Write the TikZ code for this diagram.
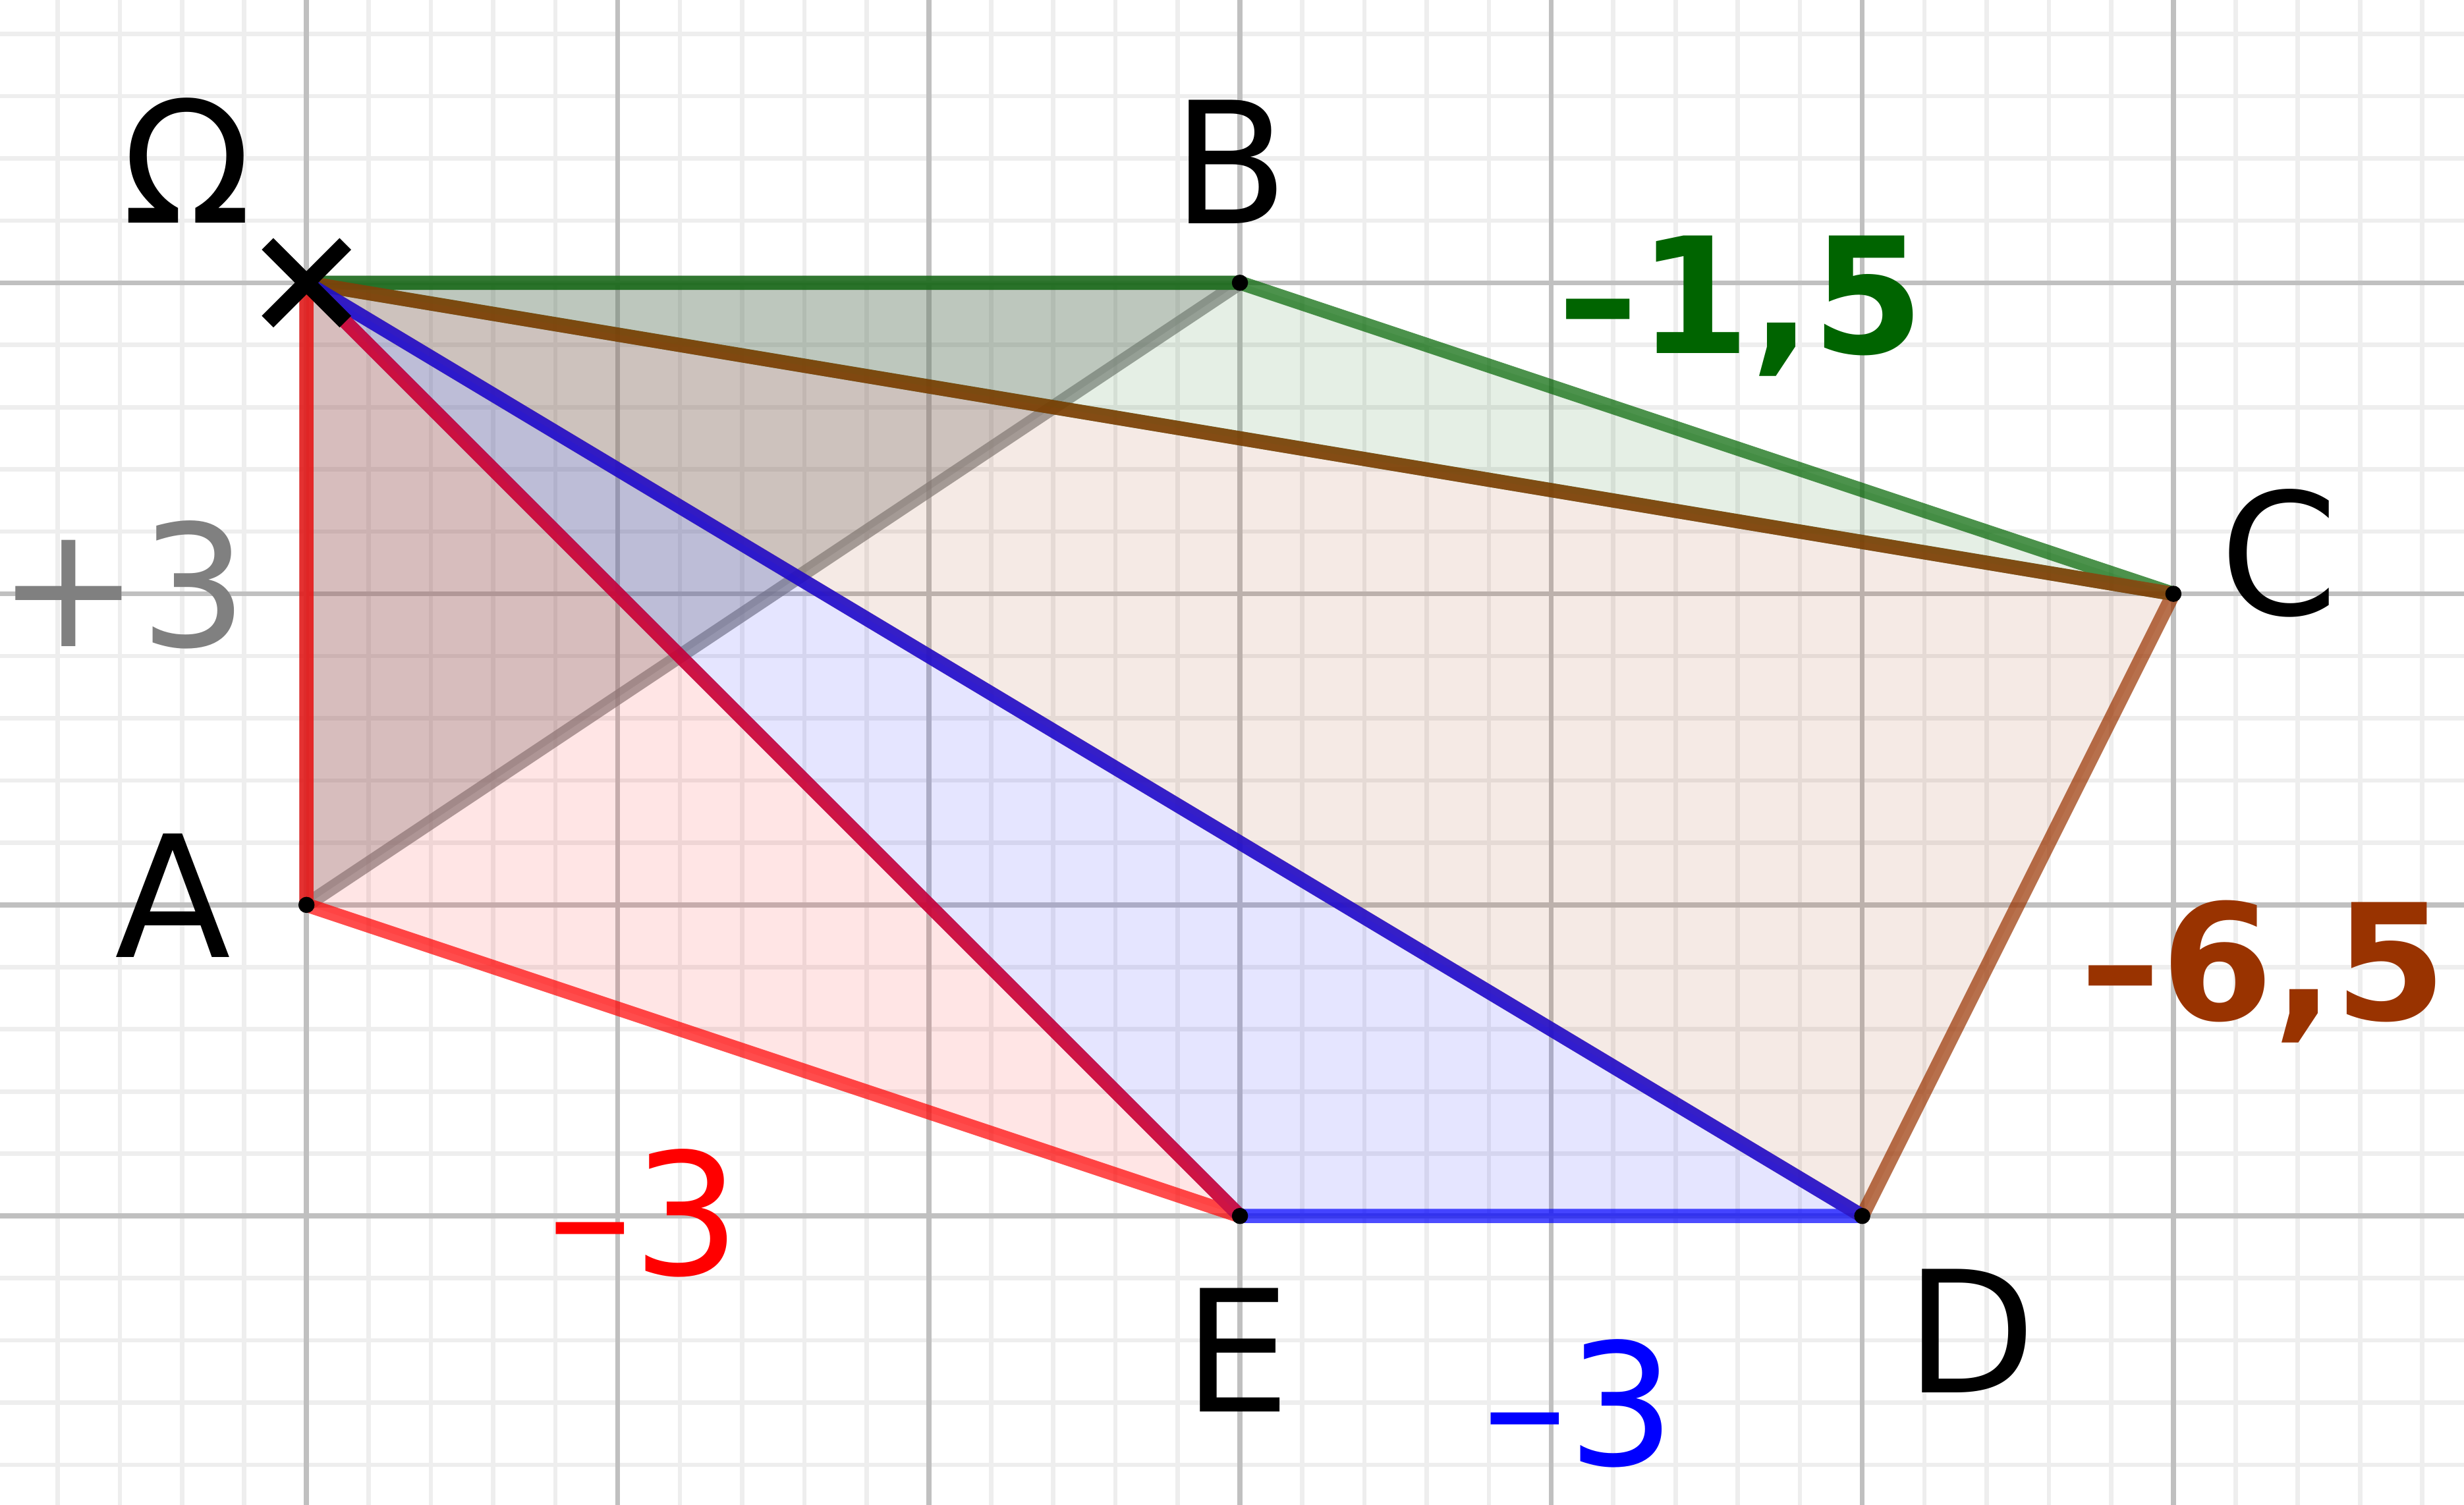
\documentclass[tikz,border=0pt]{standalone}
\usepackage{fontspec}
\setmainfont{DejaVu Sans}
\definecolor{ggreen}{RGB}{0,100,0}
\definecolor{gbrown}{RGB}{153,51,0}
\definecolor{gminor}{RGB}{238,238,238}
\definecolor{gmajor}{RGB}{192,192,192}

\begin{document}
\begin{tikzpicture}[scale=2,
  lbl/.style={font=\fontsize{31}{37}\selectfont},
  area/.style={font=\fontsize{31}{37}\selectfont,anchor=base},
  tri/.style={line width=2.6pt,draw opacity=0.7,fill opacity=0.1,line join=round}]
\useasboundingbox (-0.985,-3.929) rectangle (6.934,0.909);
\clip (-0.985,-3.929) rectangle (6.934,0.909);
% grid
\draw[gminor,line width=0.8pt,step=0.2] (-1.2,-4.2) grid (7.2,1.2);
\draw[gmajor,line width=0.9pt,step=1] (-1.2,-4.2) grid (7.2,1.2);
% points
\coordinate (O) at (0,0);
\coordinate (A) at (0,-2);
\coordinate (B) at (3,0);
\coordinate (C) at (6,-1);
\coordinate (D) at (5,-3);
\coordinate (E) at (3,-3);
% triangles
\draw[tri,draw=gray,fill=gray,fill opacity=0.35] (O) -- (A) -- (B) -- cycle;
\draw[tri,draw=ggreen,fill=ggreen] (O) -- (B) -- (C) -- cycle;
\draw[tri,draw=gbrown,fill=gbrown] (O) -- (C) -- (D) -- cycle;
\draw[tri,draw=blue,fill=blue] (O) -- (D) -- (E) -- cycle;
\draw[tri,draw=red,fill=red] (O) -- (E) -- (A) -- cycle;
\foreach \p in {A,B,C,D,E} \fill (\p) circle (0.026);
\draw[line width=3pt] (O) ++(-0.125,-0.125) -- ++(0.25,0.25) (O) ++(-0.125,0.125) -- ++(0.25,-0.25);
% labels
\node[lbl] (lO) at (-0.384,0.394) {Ω};
\node[lbl] (lB) at (2.97,0.389) {B};
\node[lbl] (lC) at (6.34,-0.869) {C};
\node[lbl] (lA) at (-0.43,-1.97) {A};
\node[lbl] (lE) at (2.99,-3.43) {E};
\node[lbl] (lD) at (5.35,-3.37) {D};
\node[area,text=gray] (sAB) at (-0.59,-1.17) {+3};
\node[area,text=ggreen,font=\fontsize{29.5}{35}\selectfont\bfseries] (sBC) at (4.61,-0.227) {–1,5};
\node[area,text=gbrown,font=\fontsize{29.5}{35}\selectfont\bfseries] (sCD) at (6.29,-2.37) {–6,5};
\node[area,text=blue] (sDE) at (4.09,-3.80) {–3};
\node[area,text=red] (sEA) at (1.086,-3.19) {–3};
\end{tikzpicture}
\end{document}
